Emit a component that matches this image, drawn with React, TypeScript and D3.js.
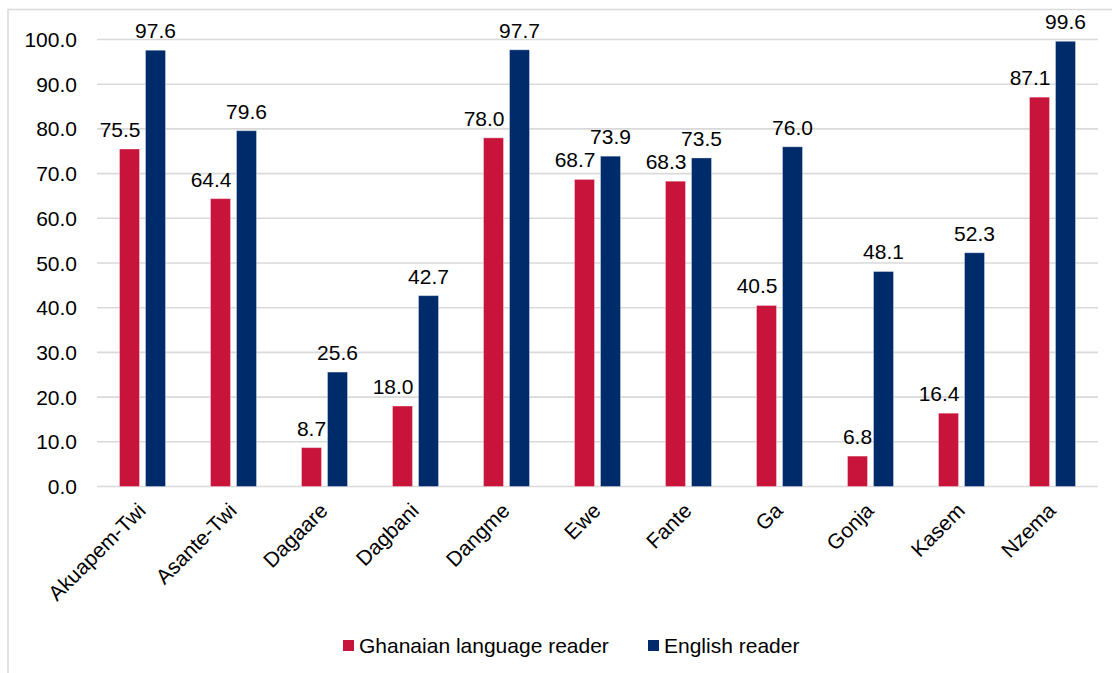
import React from "react";
import * as d3 from "d3";

const categories = ["Akuapem-Twi", "Asante-Twi", "Dagaare", "Dagbani", "Dangme", "Ewe", "Fante", "Ga", "Gonja", "Kasem", "Nzema"];
const ghanaianValues = [75.5, 64.4, 8.7, 18.0, 78.0, 68.7, 68.3, 40.5, 6.8, 16.4, 87.1];
const englishValues = [97.6, 79.6, 25.6, 42.7, 97.7, 73.9, 73.5, 76.0, 48.1, 52.3, 99.6];
const seriesNames = ["Ghanaian language reader", "English reader"];
const yTicks = [0, 10, 20, 30, 40, 50, 60, 70, 80, 90, 100];

const W = 1112;
const H = 673;
const FONT = "'Liberation Sans', Arial, sans-serif";
const FS = 21;
const COLORS = ["#C8133B", "#002B6B"];

let ctx: CanvasRenderingContext2D | null = null;
function textWidth(t: string) {
  if (!ctx) {
    const c = document.createElement("canvas");
    ctx = c.getContext("2d");
  }
  if (!ctx) return t.length * FS * 0.55;
  ctx.font = `${FS}px 'Liberation Sans', Arial, sans-serif`;
  return ctx.measureText(t).width;
}

export default function App() {
  const x0 = d3.scaleBand<string>().domain(categories).range([97, 1098]).padding(0);
  const x1 = d3
    .scaleBand<string>()
    .domain(seriesNames)
    .range([0, x0.bandwidth()])
    .paddingInner(6 / 26)
    .paddingOuter(0.8654);
  const y = d3.scaleLinear().domain([0, 100]).range([486.5, 39.5]);
  const series = [ghanaianValues, englishValues];

  return (
    <svg
      width={W}
      height={H}
      style={{ position: "absolute", left: 0, top: 0, background: "#fff" }}
      fontFamily={FONT}
    >
      <rect x={0} y={0} width={W} height={H} fill="#fff" />
      {/* frame */}
      <path d={`M8,${H + 5} L8,9.5 L${W + 5},9.5`} fill="none" stroke="#D9D9D9" strokeWidth={1.5} />
      {/* gridlines */}
      {yTicks.map((t) => (
        <line key={"g" + t} x1={97} x2={1098} y1={y(t)} y2={y(t)} stroke="#D9D9D9" strokeWidth={1.6} />
      ))}
      {/* y tick labels */}
      {yTicks.map((t) => (
        <text key={"yt" + t} x={77} y={y(t)} dy="0.36em" textAnchor="end" fontSize={FS} fill="#000">
          {t.toFixed(1)}
        </text>
      ))}
      {/* bars */}
      {categories.map((c, i) =>
        series.map((vals, s) => {
          const bx = (x0(c) ?? 0) + (x1(seriesNames[s]) ?? 0);
          return (
            <rect
              key={c + s}
              x={bx}
              y={y(vals[i])}
              width={x1.bandwidth()}
              height={y(0) - y(vals[i])}
              fill={COLORS[s]}
              stroke="#ffffff"
              strokeOpacity={0.35}
              strokeWidth={1}
            />
          );
        })
      )}
      {/* data labels */}
      {categories.map((c, i) =>
        series.map((vals, s) => {
          const bx = (x0(c) ?? 0) + (x1(seriesNames[s]) ?? 0);
          const bw = x1.bandwidth();
          const label = vals[i].toFixed(1);
          const w = textWidth(label);
          let lx = bx + bw / 2;
          let anchor: "middle" | "end" = "middle";
          if (s === 0) {
            const blueLeft = (x0(c) ?? 0) + (x1(seriesNames[1]) ?? 0);
            if (englishValues[i] > vals[i] && lx + w / 2 > blueLeft - 0.5) {
              lx = bx + bw + 1;
              anchor = "end";
            }
          }
          return (
            <text key={"l" + c + s} x={lx} y={y(vals[i]) - 12} textAnchor={anchor} fontSize={FS} fill="#000">
              {label}
            </text>
          );
        })
      )}
      {/* x labels */}
      {categories.map((c) => {
        const cx = (x0(c) ?? 0) + x0.bandwidth() / 2;
        return (
          <text
            key={"x" + c}
            transform={`translate(${cx + 4.5},512) rotate(-45)`}
            textAnchor="end"
            fontSize={FS}
            fill="#000"
          >
            {c}
          </text>
        );
      })}
      {/* legend */}
      <rect x={343} y={640} width={11} height={11} fill={COLORS[0]} />
      <text x={359} y={653} fontSize={FS} fill="#000">{seriesNames[0]}</text>
      <rect x={648} y={640} width={11} height={11} fill={COLORS[1]} />
      <text x={664} y={653} fontSize={FS} fill="#000">{seriesNames[1]}</text>
    </svg>
  );
}
